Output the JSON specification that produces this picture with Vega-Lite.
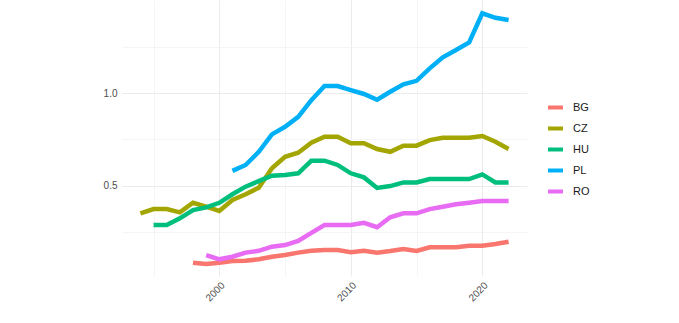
{
  "$schema": "https://vega.github.io/schema/vega-lite/v6.json",
  "width": 405,
  "height": 276,
  "autosize": {"type": "none"},
  "padding": {"left": 122, "top": 0, "right": 152, "bottom": 47},
  "background": "white",
  "config": {
    "view": {"stroke": null},
    "font": "Liberation Sans"
  },
  "data": {
    "values": [
      {"country": "BG", "year": 1998, "value": 0.085},
      {"country": "BG", "year": 1999, "value": 0.078},
      {"country": "BG", "year": 2000, "value": 0.085},
      {"country": "BG", "year": 2001, "value": 0.094},
      {"country": "BG", "year": 2002, "value": 0.095},
      {"country": "BG", "year": 2003, "value": 0.103},
      {"country": "BG", "year": 2004, "value": 0.117},
      {"country": "BG", "year": 2005, "value": 0.126},
      {"country": "BG", "year": 2006, "value": 0.139},
      {"country": "BG", "year": 2007, "value": 0.149},
      {"country": "BG", "year": 2008, "value": 0.153},
      {"country": "BG", "year": 2009, "value": 0.153},
      {"country": "BG", "year": 2010, "value": 0.141},
      {"country": "BG", "year": 2011, "value": 0.149},
      {"country": "BG", "year": 2012, "value": 0.139},
      {"country": "BG", "year": 2013, "value": 0.148},
      {"country": "BG", "year": 2014, "value": 0.159},
      {"country": "BG", "year": 2015, "value": 0.148},
      {"country": "BG", "year": 2016, "value": 0.168},
      {"country": "BG", "year": 2017, "value": 0.168},
      {"country": "BG", "year": 2018, "value": 0.168},
      {"country": "BG", "year": 2019, "value": 0.176},
      {"country": "BG", "year": 2020, "value": 0.176},
      {"country": "BG", "year": 2021, "value": 0.186},
      {"country": "BG", "year": 2022, "value": 0.198},
      {"country": "CZ", "year": 1994, "value": 0.351},
      {"country": "CZ", "year": 1995, "value": 0.374},
      {"country": "CZ", "year": 1996, "value": 0.374},
      {"country": "CZ", "year": 1997, "value": 0.356},
      {"country": "CZ", "year": 1998, "value": 0.408},
      {"country": "CZ", "year": 1999, "value": 0.387},
      {"country": "CZ", "year": 2000, "value": 0.364},
      {"country": "CZ", "year": 2001, "value": 0.423},
      {"country": "CZ", "year": 2002, "value": 0.454},
      {"country": "CZ", "year": 2003, "value": 0.489},
      {"country": "CZ", "year": 2004, "value": 0.594},
      {"country": "CZ", "year": 2005, "value": 0.656},
      {"country": "CZ", "year": 2006, "value": 0.678},
      {"country": "CZ", "year": 2007, "value": 0.732},
      {"country": "CZ", "year": 2008, "value": 0.764},
      {"country": "CZ", "year": 2009, "value": 0.764},
      {"country": "CZ", "year": 2010, "value": 0.729},
      {"country": "CZ", "year": 2011, "value": 0.729},
      {"country": "CZ", "year": 2012, "value": 0.698},
      {"country": "CZ", "year": 2013, "value": 0.683},
      {"country": "CZ", "year": 2014, "value": 0.716},
      {"country": "CZ", "year": 2015, "value": 0.716},
      {"country": "CZ", "year": 2016, "value": 0.746},
      {"country": "CZ", "year": 2017, "value": 0.759},
      {"country": "CZ", "year": 2018, "value": 0.759},
      {"country": "CZ", "year": 2019, "value": 0.759},
      {"country": "CZ", "year": 2020, "value": 0.768},
      {"country": "CZ", "year": 2021, "value": 0.737},
      {"country": "CZ", "year": 2022, "value": 0.698},
      {"country": "HU", "year": 1995, "value": 0.288},
      {"country": "HU", "year": 1996, "value": 0.288},
      {"country": "HU", "year": 1997, "value": 0.324},
      {"country": "HU", "year": 1998, "value": 0.369},
      {"country": "HU", "year": 1999, "value": 0.383},
      {"country": "HU", "year": 2000, "value": 0.408},
      {"country": "HU", "year": 2001, "value": 0.454},
      {"country": "HU", "year": 2002, "value": 0.495},
      {"country": "HU", "year": 2003, "value": 0.525},
      {"country": "HU", "year": 2004, "value": 0.554},
      {"country": "HU", "year": 2005, "value": 0.558},
      {"country": "HU", "year": 2006, "value": 0.567},
      {"country": "HU", "year": 2007, "value": 0.635},
      {"country": "HU", "year": 2008, "value": 0.635},
      {"country": "HU", "year": 2009, "value": 0.612},
      {"country": "HU", "year": 2010, "value": 0.567},
      {"country": "HU", "year": 2011, "value": 0.545},
      {"country": "HU", "year": 2012, "value": 0.488},
      {"country": "HU", "year": 2013, "value": 0.498},
      {"country": "HU", "year": 2014, "value": 0.518},
      {"country": "HU", "year": 2015, "value": 0.518},
      {"country": "HU", "year": 2016, "value": 0.536},
      {"country": "HU", "year": 2017, "value": 0.536},
      {"country": "HU", "year": 2018, "value": 0.536},
      {"country": "HU", "year": 2019, "value": 0.536},
      {"country": "HU", "year": 2020, "value": 0.561},
      {"country": "HU", "year": 2021, "value": 0.518},
      {"country": "HU", "year": 2022, "value": 0.518},
      {"country": "PL", "year": 2001, "value": 0.58},
      {"country": "PL", "year": 2002, "value": 0.612},
      {"country": "PL", "year": 2003, "value": 0.683},
      {"country": "PL", "year": 2004, "value": 0.777},
      {"country": "PL", "year": 2005, "value": 0.818},
      {"country": "PL", "year": 2006, "value": 0.872},
      {"country": "PL", "year": 2007, "value": 0.962},
      {"country": "PL", "year": 2008, "value": 1.038},
      {"country": "PL", "year": 2009, "value": 1.038},
      {"country": "PL", "year": 2010, "value": 1.016},
      {"country": "PL", "year": 2011, "value": 0.995},
      {"country": "PL", "year": 2012, "value": 0.964},
      {"country": "PL", "year": 2013, "value": 1.007},
      {"country": "PL", "year": 2014, "value": 1.047},
      {"country": "PL", "year": 2015, "value": 1.066},
      {"country": "PL", "year": 2016, "value": 1.133},
      {"country": "PL", "year": 2017, "value": 1.193},
      {"country": "PL", "year": 2018, "value": 1.232},
      {"country": "PL", "year": 2019, "value": 1.273},
      {"country": "PL", "year": 2020, "value": 1.43},
      {"country": "PL", "year": 2021, "value": 1.406},
      {"country": "PL", "year": 2022, "value": 1.394},
      {"country": "RO", "year": 1999, "value": 0.126},
      {"country": "RO", "year": 2000, "value": 0.103},
      {"country": "RO", "year": 2001, "value": 0.117},
      {"country": "RO", "year": 2002, "value": 0.139},
      {"country": "RO", "year": 2003, "value": 0.149},
      {"country": "RO", "year": 2004, "value": 0.171},
      {"country": "RO", "year": 2005, "value": 0.18},
      {"country": "RO", "year": 2006, "value": 0.202},
      {"country": "RO", "year": 2007, "value": 0.246},
      {"country": "RO", "year": 2008, "value": 0.288},
      {"country": "RO", "year": 2009, "value": 0.288},
      {"country": "RO", "year": 2010, "value": 0.288},
      {"country": "RO", "year": 2011, "value": 0.3},
      {"country": "RO", "year": 2012, "value": 0.276},
      {"country": "RO", "year": 2013, "value": 0.33},
      {"country": "RO", "year": 2014, "value": 0.351},
      {"country": "RO", "year": 2015, "value": 0.351},
      {"country": "RO", "year": 2016, "value": 0.374},
      {"country": "RO", "year": 2017, "value": 0.387},
      {"country": "RO", "year": 2018, "value": 0.4},
      {"country": "RO", "year": 2019, "value": 0.408},
      {"country": "RO", "year": 2020, "value": 0.417},
      {"country": "RO", "year": 2021, "value": 0.417},
      {"country": "RO", "year": 2022, "value": 0.417}
    ]
  },
  "mark": {"type": "line", "strokeWidth": 4.5, "strokeJoin": "miter", "strokeCap": "butt"},
  "encoding": {
    "x": {
      "field": "year",
      "type": "quantitative",
      "scale": {"domain": [1992.6, 2023.4], "nice": false, "zero": false},
      "axis": {
        "title": null,
        "values": [1995, 2000, 2005, 2010, 2015, 2020],
        "labelExpr": "datum.value % 10 === 0 ? datum.value : ''",
        "labelAngle": -45,
        "labelAlign": "right",
        "labelBaseline": "top",
        "labelPadding": 4,
        "labelFontSize": 10,
        "labelColor": "#4d4d4d",
        "domain": false,
        "ticks": false,
        "grid": true,
        "gridColor": {"condition": {"test": "datum.value % 10 === 0", "value": "#ebebeb"}, "value": "#f3f3f3"},
        "gridWidth": {"condition": {"test": "datum.value % 10 === 0", "value": 1}, "value": 0.8}
      }
    },
    "y": {
      "field": "value",
      "type": "quantitative",
      "scale": {"domain": [0.013, 1.502], "nice": false, "zero": false},
      "axis": {
        "title": null,
        "values": [0.25, 0.5, 0.75, 1.0, 1.25],
        "labelExpr": "datum.value === 0.5 ? '0.5' : (datum.value === 1 ? '1.0' : '')",
        "labelPadding": 5,
        "labelFontSize": 10,
        "labelColor": "#4d4d4d",
        "domain": false,
        "ticks": false,
        "grid": true,
        "gridColor": {"condition": {"test": "datum.value === 0.5 || datum.value === 1", "value": "#ebebeb"}, "value": "#f3f3f3"},
        "gridWidth": {"condition": {"test": "datum.value === 0.5 || datum.value === 1", "value": 1}, "value": 0.8}
      }
    },
    "color": {
      "field": "country",
      "type": "nominal",
      "scale": {
        "domain": ["BG", "CZ", "HU", "PL", "RO"],
        "range": ["#F8766D", "#A3A500", "#00BF7D", "#00B0F6", "#E76BF3"]
      },
      "legend": {
        "title": null,
        "orient": "none",
        "legendX": 424,
        "legendY": 98,
        "symbolType": "stroke",
        "symbolSize": 225,
        "symbolStrokeWidth": 4,
        "labelFontSize": 11,
        "labelColor": "#1a1a1a",
        "labelOffset": 8,
        "rowPadding": 3
      }
    }
  }
}
